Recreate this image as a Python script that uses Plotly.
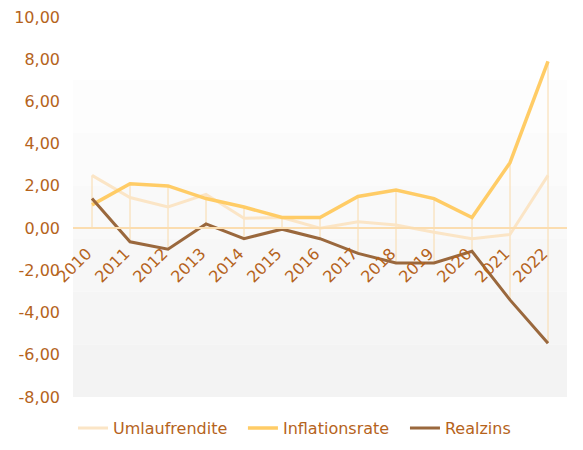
import plotly.graph_objects as go

years = ["2010", "2011", "2012", "2013", "2014", "2015", "2016",
         "2017", "2018", "2019", "2020", "2021", "2022"]
umlaufrendite = [2.5, 1.45, 1.0, 1.6, 0.47, 0.5, 0.0, 0.3, 0.15, -0.2, -0.5, -0.3, 2.5]
inflationsrate = [1.1, 2.1, 2.0, 1.4, 1.0, 0.5, 0.5, 1.5, 1.8, 1.4, 0.5, 3.1, 7.9]
realzins = [1.4, -0.65, -1.0, 0.2, -0.5, -0.05, -0.5, -1.2, -1.65, -1.65, -1.1, -3.4, -5.45]
y_ticks = [10, 8, 6, 4, 2, 0, -2, -4, -6, -8]
y_tick_labels = ["10,00", "8,00", "6,00", "4,00", "2,00", "0,00",
                 "-2,00", "-4,00", "-6,00", "-8,00"]

TEXT = "#B5631C"
FONT = "DejaVu Sans"

fig = go.Figure()

# drop lines from zero to the extreme values of each year
dx, dy = [], []
for i, yr in enumerate(years):
    vals = [umlaufrendite[i], inflationsrate[i], realzins[i], 0]
    dx += [yr, yr, None]
    dy += [min(vals), max(vals), None]
fig.add_trace(go.Scatter(x=dx, y=dy, mode="lines", showlegend=False,
                         hoverinfo="skip",
                         line=dict(color="#F9DAAA", width=1)))

fig.add_trace(go.Scatter(x=years, y=umlaufrendite, mode="lines", name="Umlaufrendite",
                         legend="legend",
                         line=dict(color="#FBE5C6", width=3)))
fig.add_trace(go.Scatter(x=years, y=inflationsrate, mode="lines", name="Inflationsrate",
                         legend="legend2",
                         line=dict(color="#FFCC66", width=3.5)))
fig.add_trace(go.Scatter(x=years, y=realzins, mode="lines", name="Realzins",
                         legend="legend3",
                         line=dict(color="#9A683D", width=3)))

# background gradient bands
shapes = []
top, bottom = 7.0, -8.0
n = 6
for k in range(n):
    y1 = top - (top - bottom) * k / n
    y0 = top - (top - bottom) * (k + 1) / n
    g = int(round(253 - (253 - 243) * k / (n - 1)))
    shapes.append(dict(type="rect", xref="paper", yref="y", x0=0, x1=1, y0=y0, y1=y1,
                       fillcolor=f"rgb({g},{g},{g})", line=dict(width=0), layer="below"))

def leg(x):
    return dict(orientation="h", x=x, xanchor="left", y=-0.082, yanchor="middle",
                font=dict(family=FONT, size=16, color=TEXT), itemwidth=30,
                bgcolor="rgba(0,0,0,0)")

fig.update_layout(
    width=567, height=434,
    margin=dict(l=65, r=8, t=9, b=45, autoexpand=False),
    paper_bgcolor="white", plot_bgcolor="white",
    font=dict(family=FONT, size=16, color=TEXT),
    shapes=shapes,
    showlegend=True,
    legend=leg(0.0),
    legend2=leg(0.344),
    legend3=leg(0.672),
    xaxis=dict(type="category", range=[-0.5, 12.5], anchor="free", position=8 / 18,
               showgrid=False, showline=True, linecolor="#FBDDB0", linewidth=1.5,
               tickangle=-45, ticks="", zeroline=False, automargin=False,
               ticklabelstandoff=9, ticklabelshift=-5,
               tickfont=dict(family=FONT, size=16, color=TEXT)),
    yaxis=dict(range=[-8, 10], tickvals=y_ticks, ticktext=y_tick_labels, showgrid=False,
               zeroline=False, showline=False, ticks="", ticklabelstandoff=12,
               automargin=False, ticklabeloverflow="allow",
               tickfont=dict(family=FONT, size=16, color=TEXT)),
)

fig.write_html("out.html")
